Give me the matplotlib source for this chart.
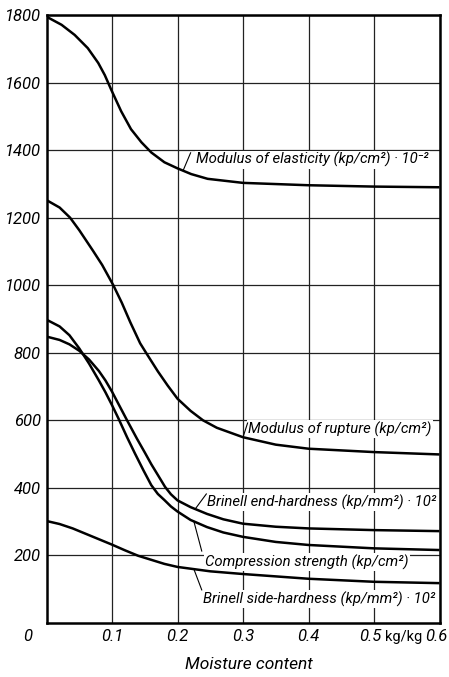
import matplotlib
matplotlib.use("Agg")
import matplotlib.pyplot as plt
import matplotlib.transforms as mtransforms
import numpy as np

plt.rcParams['font.family'] = ['Roboto', 'DejaVu Sans']

# moisture content (kg/kg) and the five property curves
x_elast = [0, 0.023, 0.043, 0.063, 0.079, 0.089, 0.099, 0.114, 0.129, 0.145, 0.16,
           0.18, 0.2, 0.221, 0.246, 0.3, 0.4, 0.5, 0.6]
y_elast = [1795, 1771, 1741, 1702, 1658, 1622, 1578, 1515, 1462, 1423, 1393,
           1364, 1346, 1329, 1315, 1303, 1296, 1292, 1290]

x_rupt = [0, 0.02, 0.036, 0.05, 0.071, 0.085, 0.102, 0.115, 0.128, 0.143, 0.152,
          0.17, 0.185, 0.2, 0.22, 0.239, 0.26, 0.3, 0.35, 0.4, 0.5, 0.6]
y_rupt = [1252, 1230, 1200, 1163, 1102, 1060, 1000, 948, 890, 828, 800,
          745, 703, 664, 628, 600, 578, 550, 528, 516, 506, 499]

x_end = [0, 0.02, 0.035, 0.05, 0.065, 0.08, 0.09, 0.1, 0.11, 0.123, 0.138, 0.15,
         0.16, 0.171, 0.181, 0.19, 0.2, 0.22, 0.245, 0.27, 0.3, 0.35, 0.4, 0.5, 0.6]
y_end = [848, 838, 825, 806, 780, 746, 718, 685, 648, 600, 546, 505,
         470, 435, 403, 381, 363, 343, 323, 307, 294, 285, 280, 275, 272]

x_comp = [0, 0.02, 0.035, 0.05, 0.065, 0.08, 0.09, 0.1, 0.11, 0.123, 0.135, 0.148,
          0.16, 0.17, 0.18, 0.19, 0.2, 0.22, 0.245, 0.27, 0.3, 0.35, 0.4, 0.5, 0.6]
y_comp = [898, 878, 852, 813, 768, 718, 683, 645, 605, 550, 502, 452,
          408, 382, 364, 345, 330, 305, 284, 268, 255, 240, 231, 221, 216]

x_side = [0, 0.02, 0.04, 0.06, 0.08, 0.1, 0.12, 0.14, 0.16, 0.18, 0.2, 0.25,
          0.3, 0.4, 0.5, 0.6]
y_side = [302, 293, 280, 264, 248, 232, 215, 199, 187, 175, 166, 153,
          145, 131, 122, 118]

labels = ['Modulus of elasticity (kp/cm²) · 10⁻²',
          'Modulus of rupture (kp/cm²)',
          'Brinell end-hardness (kp/mm²) · 10²',
          'Compression strength (kp/cm²)',
          'Brinell side-hardness (kp/mm²) · 10²']

yticks = [200, 400, 600, 800, 1000, 1200, 1400, 1600, 1800]
xticks = [0.1, 0.2, 0.3, 0.4, 0.5, 0.6]
xticklabels = ['0.1', '0.2', '0.3', '0.4', '0.5', '0.6']

fig = plt.figure(figsize=(4.49, 6.77), dpi=100)
ax = fig.add_axes([46.5/449, 54/677, 393/449, 608/677])

series = [(x_elast, y_elast), (x_rupt, y_rupt), (x_end, y_end),
          (x_comp, y_comp), (x_side, y_side)]
for xs, ys in series:
    ax.plot(xs, ys, color='black', lw=1.8, zorder=5, solid_capstyle='butt')

ax.set_xlim(0, 0.6)
ax.set_ylim(0, 1800)
ax.set_yticks(yticks)
ax.set_yticklabels([str(v) for v in yticks], fontsize=12, style='italic')
ax.set_xticks(xticks)
ax.set_xticklabels(xticklabels, fontsize=12, style='italic')
ax.tick_params(length=0, pad=4)
# nudge the last two x labels so "kg/kg" fits between them
for lab, dx in zip(ax.get_xticklabels()[-2:], [-3, -2]):
    lab.set_transform(lab.get_transform() +
                      mtransforms.ScaledTranslation(dx/72, 0, fig.dpi_scale_trans))
ax.grid(True, color='#222222', lw=0.9)
ax.set_axisbelow(True)
for s in ax.spines.values():
    s.set_linewidth(1.8)
    s.set_zorder(6)

ax.text(-0.047, -0.023, '0', fontsize=12, style='italic', ha='center', va='center',
        transform=ax.transAxes)
ax.text(0.545, -0.023, 'kg/kg', fontsize=10.5, ha='center', va='center',
        transform=ax.get_xaxis_transform())
ax.text(0.515, -0.068, 'Moisture content', fontsize=12.5, style='italic',
        ha='center', va='center', transform=ax.transAxes)

# curve labels: (text x, text y, leader start x on curve, leader end x, leader end y)
label_pos = [(0.228, 1372, 0.2085, 0.22, 1392),
             (0.308, 574, 0.300, 0.307, 592),
             (0.245, 358, 0.227, 0.244, 382),
             (0.242, 180, 0.225, 0.237, 213),
             (0.239, 71, 0.225, 0.237, 98)]
for (xs, ys), lab, (tx, ty, lx0, lx1, ly1) in zip(series, labels, label_pos):
    ax.text(tx, ty, lab, fontsize=10.7, style='italic', ha='left', va='center',
            zorder=4, bbox=dict(facecolor='white', edgecolor='none', pad=1.0))
    ly0 = np.interp(lx0, xs, ys)
    ax.plot([lx0, lx1], [ly0, ly1], color='black', lw=0.8, zorder=5)

fig.savefig('out.png', dpi=100)
